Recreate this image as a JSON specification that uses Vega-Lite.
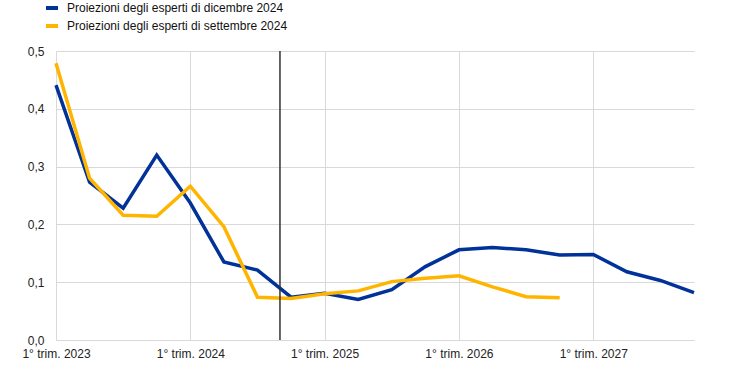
{
  "$schema": "https://vega.github.io/schema/vega-lite/v6.json",
  "width": 638,
  "height": 289,
  "autosize": "none",
  "padding": {"left": 56, "top": 51, "right": 50, "bottom": 28},
  "background": "white",
  "config": {
    "font": "Liberation Sans",
    "view": {"stroke": null},
    "axis": {"labelFont": "Liberation Sans", "labelFontSize": 12, "labelColor": "#222222", "gridColor": "#d9d9d9", "gridWidth": 1}
  },
  "datasets": {
    "series": [
      {"t": 0, "s": "Proiezioni degli esperti di dicembre 2024", "v": 0.441},
      {"t": 1, "s": "Proiezioni degli esperti di dicembre 2024", "v": 0.273},
      {"t": 2, "s": "Proiezioni degli esperti di dicembre 2024", "v": 0.228},
      {"t": 3, "s": "Proiezioni degli esperti di dicembre 2024", "v": 0.320},
      {"t": 4, "s": "Proiezioni degli esperti di dicembre 2024", "v": 0.237},
      {"t": 5, "s": "Proiezioni degli esperti di dicembre 2024", "v": 0.135},
      {"t": 6, "s": "Proiezioni degli esperti di dicembre 2024", "v": 0.121},
      {"t": 7, "s": "Proiezioni degli esperti di dicembre 2024", "v": 0.074},
      {"t": 8, "s": "Proiezioni degli esperti di dicembre 2024", "v": 0.081},
      {"t": 9, "s": "Proiezioni degli esperti di dicembre 2024", "v": 0.070},
      {"t": 10, "s": "Proiezioni degli esperti di dicembre 2024", "v": 0.087},
      {"t": 11, "s": "Proiezioni degli esperti di dicembre 2024", "v": 0.127},
      {"t": 12, "s": "Proiezioni degli esperti di dicembre 2024", "v": 0.156},
      {"t": 13, "s": "Proiezioni degli esperti di dicembre 2024", "v": 0.160},
      {"t": 14, "s": "Proiezioni degli esperti di dicembre 2024", "v": 0.156},
      {"t": 15, "s": "Proiezioni degli esperti di dicembre 2024", "v": 0.147},
      {"t": 16, "s": "Proiezioni degli esperti di dicembre 2024", "v": 0.148},
      {"t": 17, "s": "Proiezioni degli esperti di dicembre 2024", "v": 0.118},
      {"t": 18, "s": "Proiezioni degli esperti di dicembre 2024", "v": 0.103},
      {"t": 19, "s": "Proiezioni degli esperti di dicembre 2024", "v": 0.082},
      {"t": 0, "s": "Proiezioni degli esperti di settembre 2024", "v": 0.479},
      {"t": 1, "s": "Proiezioni degli esperti di settembre 2024", "v": 0.280},
      {"t": 2, "s": "Proiezioni degli esperti di settembre 2024", "v": 0.216},
      {"t": 3, "s": "Proiezioni degli esperti di settembre 2024", "v": 0.214},
      {"t": 4, "s": "Proiezioni degli esperti di settembre 2024", "v": 0.266},
      {"t": 5, "s": "Proiezioni degli esperti di settembre 2024", "v": 0.196},
      {"t": 6, "s": "Proiezioni degli esperti di settembre 2024", "v": 0.074},
      {"t": 7, "s": "Proiezioni degli esperti di settembre 2024", "v": 0.072},
      {"t": 8, "s": "Proiezioni degli esperti di settembre 2024", "v": 0.080},
      {"t": 9, "s": "Proiezioni degli esperti di settembre 2024", "v": 0.085},
      {"t": 10, "s": "Proiezioni degli esperti di settembre 2024", "v": 0.101},
      {"t": 11, "s": "Proiezioni degli esperti di settembre 2024", "v": 0.107},
      {"t": 12, "s": "Proiezioni degli esperti di settembre 2024", "v": 0.111},
      {"t": 13, "s": "Proiezioni degli esperti di settembre 2024", "v": 0.092},
      {"t": 14, "s": "Proiezioni degli esperti di settembre 2024", "v": 0.075},
      {"t": 15, "s": "Proiezioni degli esperti di settembre 2024", "v": 0.073}
    ],
    "cut": [{"t": 6.67}]
  },
  "layer": [
    {
      "data": {"name": "series"},
      "mark": {"type": "line", "strokeWidth": 3.5, "strokeJoin": "miter", "strokeCap": "butt"},
      "encoding": {
        "x": {
          "field": "t", "type": "quantitative",
          "scale": {"domain": [0, 19], "nice": false, "zero": false},
          "axis": {
            "title": null, "values": [0, 4, 8, 12, 16], "ticks": false, "domain": true, "domainColor": "#d9d9d9",
            "labelPadding": 8, "labelFlush": false,
            "labelExpr": "'1° trim. ' + (2023 + datum.value / 4)"
          }
        },
        "y": {
          "field": "v", "type": "quantitative",
          "scale": {"domain": [0, 0.5], "nice": false},
          "axis": {
            "title": null, "values": [0, 0.1, 0.2, 0.3, 0.4, 0.5], "ticks": false, "domain": false,
            "labelPadding": 12,
            "labelExpr": "replace(format(datum.value, '.1f'), '.', ',')"
          }
        },
        "color": {
          "field": "s", "type": "nominal",
          "scale": {
            "domain": ["Proiezioni degli esperti di dicembre 2024", "Proiezioni degli esperti di settembre 2024"],
            "range": ["#003299", "#FFB400"]
          },
          "legend": {
            "title": null, "orient": "none", "legendX": -12, "legendY": -51,
            "symbolType": "stroke", "symbolSize": 144, "symbolStrokeWidth": 4,
            "labelFontSize": 12, "labelColor": "#111111", "labelFont": "Liberation Sans", "labelLimit": 400,
            "rowPadding": 2, "symbolOffset": 0, "labelOffset": 7
          }
        }
      }
    },
    {
      "data": {"name": "cut"},
      "mark": {"type": "rule", "color": "#333333", "strokeWidth": 1.5},
      "encoding": {"x": {"field": "t", "type": "quantitative"}}
    }
  ]
}
